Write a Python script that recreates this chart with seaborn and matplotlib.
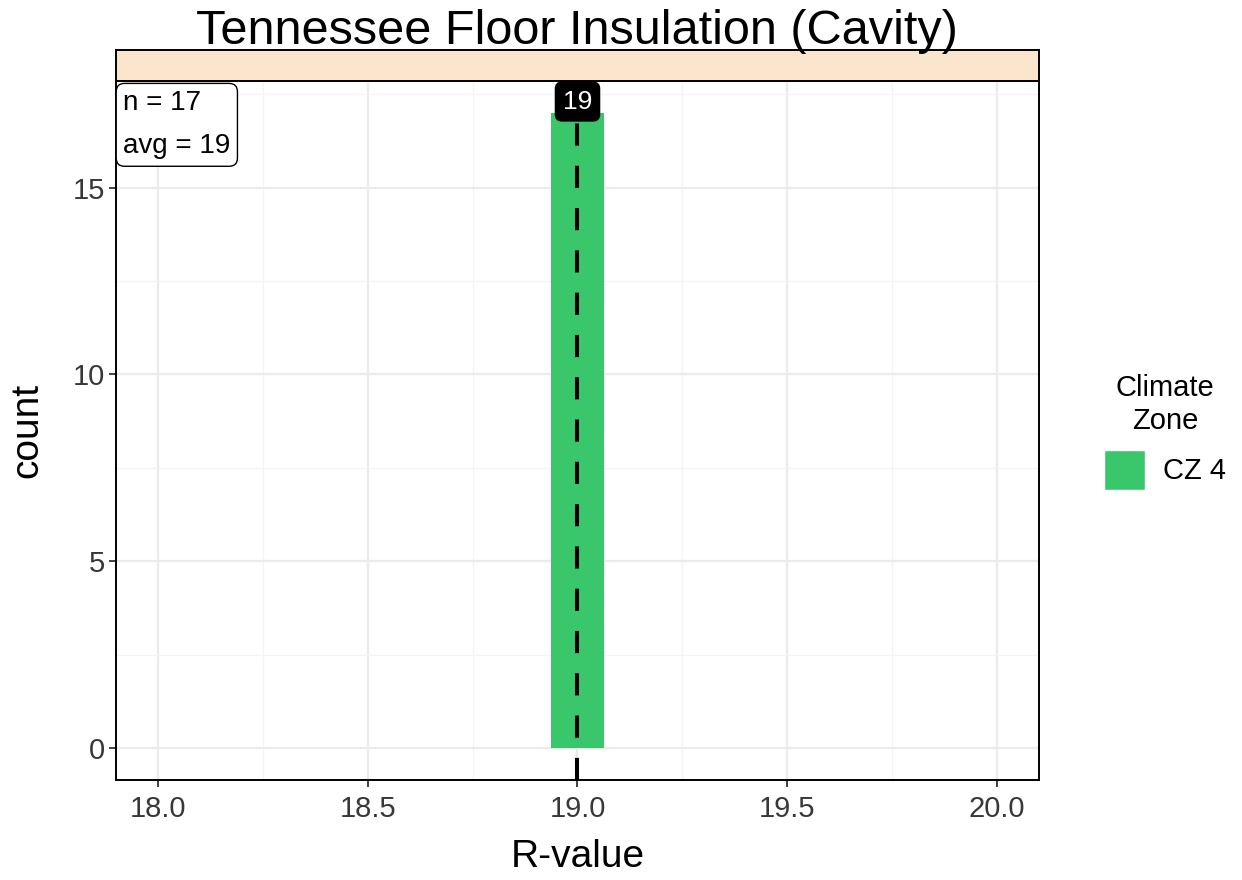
import matplotlib
matplotlib.use("Agg")
import matplotlib.pyplot as plt
import seaborn as sns
import pandas as pd
from matplotlib.patches import Patch
from matplotlib.ticker import MultipleLocator

# data
r_value = [19.0]
count = [17]
zone = ["CZ 4"]
n_homes = 17
avg_r = 19
zone_colors = {"CZ 4": "#3AC66A"}

df = pd.DataFrame({"R-value": r_value, "count": count, "zone": zone})

sns.set_style("white")
plt.rcParams["font.family"] = ["Liberation Sans", "DejaVu Sans"]
plt.rcParams["text.color"] = "black"
plt.rcParams["axes.labelcolor"] = "black"

W, H = 1242, 880
fig = plt.figure(figsize=(W / 100, H / 100), dpi=100)
ax = fig.add_axes([116 / W, 100 / H, 923 / W, 699 / H])

sns.histplot(data=df, x="R-value", weights="count", hue="zone", palette=zone_colors,
             binwidth=0.125, binrange=(18.9375, 19.0625), alpha=1, linewidth=0,
             legend=False, ax=ax, zorder=2)

ax.set_xlim(17.9, 20.1)
ax.set_ylim(-0.85, 17.85)
ax.xaxis.set_major_locator(MultipleLocator(0.5))
ax.xaxis.set_minor_locator(MultipleLocator(0.25))
ax.yaxis.set_major_locator(MultipleLocator(5))
ax.yaxis.set_minor_locator(MultipleLocator(2.5))
ax.set_xticklabels([f"{t:.1f}" for t in ax.get_xticks()])
ax.grid(which="major", color="#EBEBEB", linewidth=1.6, zorder=0)
ax.grid(which="minor", color="#F4F4F4", linewidth=0.9, zorder=0)
ax.set_axisbelow(True)
for s in ax.spines.values():
    s.set_color("black")
    s.set_linewidth(1.4)
ax.tick_params(axis="both", which="major", direction="out", length=5, width=1.3,
               color="#333333", labelsize=21, labelcolor="#383838",
               bottom=True, left=True)
ax.tick_params(axis="x", pad=6)
ax.tick_params(axis="y", pad=3)
ax.tick_params(which="minor", length=0)
ax.set_xlabel("R-value", fontsize=28)
ax.set_ylabel("count", fontsize=28)
ax.xaxis.set_label_coords(0.5, (780 - 857) / 699)
ax.xaxis.label.set_va("center")
ax.yaxis.set_label_coords((27 - 116) / 923, 0.5)
ax.yaxis.label.set_va("center")

# mean line and label
ax.axvline(avg_r, color="black", linestyle=(0, (5.5, 5)), linewidth=2.9, zorder=3)
ax.text(avg_r, 17.3, str(avg_r), ha="center", va="center", fontsize=19, color="white",
        bbox=dict(boxstyle="round,pad=0.28,rounding_size=0.25", fc="black", ec="black"), zorder=4)

# n / avg box
ax.text(17.917, 17.6, f"n = {n_homes}\navg = {avg_r}", ha="left", va="top", fontsize=20,
        linespacing=1.85,
        bbox=dict(boxstyle="round,pad=0.25,rounding_size=0.3", fc="white", ec="black", lw=1),
        zorder=5)

# facet strip
strip = fig.add_axes([116 / W, 799 / H, 923 / W, 31 / H])
strip.set_facecolor("#FBE5CD")
strip.set_xticks([])
strip.set_yticks([])
for s in strip.spines.values():
    s.set_color("black")
    s.set_linewidth(1.4)

fig.text(577 / W, 1 - 31 / H, "Tennessee Floor Insulation (Cavity)", ha="center", va="center",
         fontsize=35)

handles = [Patch(facecolor=zone_colors[z], label=z) for z in zone]
leg = fig.legend(handles=handles, title="Climate\nZone", loc="center left",
                 bbox_to_anchor=(1078 / W, 1 - 432 / H), frameon=False,
                 fontsize=21, title_fontsize=21, handlelength=1.4, handleheight=1.75,
                 handletextpad=0.6)
leg.get_title().set_multialignment("center")
leg.get_title().set_linespacing(1.25)

fig.savefig("out.png", dpi=100)
